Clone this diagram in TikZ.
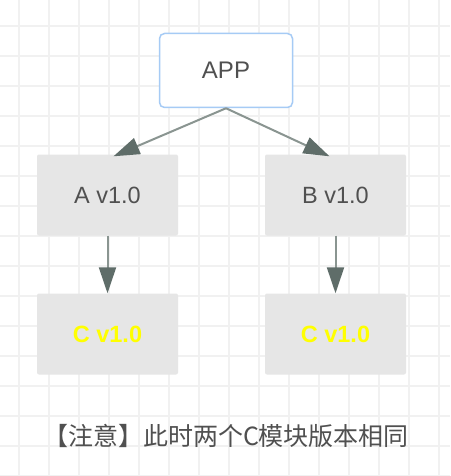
\documentclass[tikz,border=0pt]{standalone}
\usepackage{fontspec}
\setmainfont{Liberation Sans}
\newfontfamily\cjkfont{Noto Sans CJK SC}
\usetikzlibrary{arrows.meta}
\definecolor{gridline}{HTML}{F1F1F1}
\definecolor{appborder}{HTML}{A6CBF5}
\definecolor{boxfill}{HTML}{E6E6E6}
\definecolor{textgray}{HTML}{505050}
\definecolor{arrowline}{HTML}{8A9591}
\definecolor{arrowhead}{HTML}{5F6D69}
\definecolor{cyellow}{HTML}{FFFF00}
\tikzset{
	modbox/.style={fill=boxfill, rounded corners=2pt, minimum width=141pt, minimum height=81pt, text=textgray, font=\fontsize{23.5}{28}\selectfont},
	cbox/.style={modbox, text=cyellow, font=\fontsize{23.5}{28}\selectfont\bfseries},
	deparrow/.style={line width=2pt, color=arrowline, -{Triangle[length=26pt, width=17pt, color=arrowhead]}}
}

\begin{document}
\begin{tikzpicture}[x=1pt, y=-1pt]
		%%%%% START %%%%%
		\useasboundingbox[fill=white] (0, 0) rectangle (450, 476);
		
		% grid
		\foreach \gx in {19, 49, ..., 450}
			\draw[gridline, line width=1.5pt] (\gx, 0) -- (\gx, 476);
		\foreach \gy in {26, 56, ..., 476}
			\draw[gridline, line width=1.5pt] (0, \gy) -- (450, \gy);
		
		\node[draw=appborder, line width=1.5pt, fill=white, rounded corners=5pt, minimum width=133pt, minimum height=74pt, text=textgray, font=\fontsize{24}{28}\selectfont] (app) at (226, 70.5) {APP};
		
		\node[modbox] (mod a) at (107.5, 195) {A v1.0};
		\node[modbox] (mod b) at (335.5, 195) {B v1.0};
		\node[cbox] (mod ca) at (107.5, 334) {C v1.0};
		\node[cbox] (mod cb) at (335.5, 334) {C v1.0};
		
		\draw[deparrow] (app.south) -- ([xshift=6pt, yshift=-2pt]mod a.north);
		\draw[deparrow] (app.south) -- ([xshift=-6pt, yshift=-2pt]mod b.north);
		\draw[deparrow] (mod a.south) -- (mod ca.north);
		\draw[deparrow] (mod b.south) -- (mod cb.north);
		
		\node[text=textgray, font=\cjkfont\fontsize{25}{30}\selectfont] (note) at (226, 436) {【注意】此时两个C模块版本相同};
		
		%%%%% END %%%%%
	\end{tikzpicture}
\end{document}
